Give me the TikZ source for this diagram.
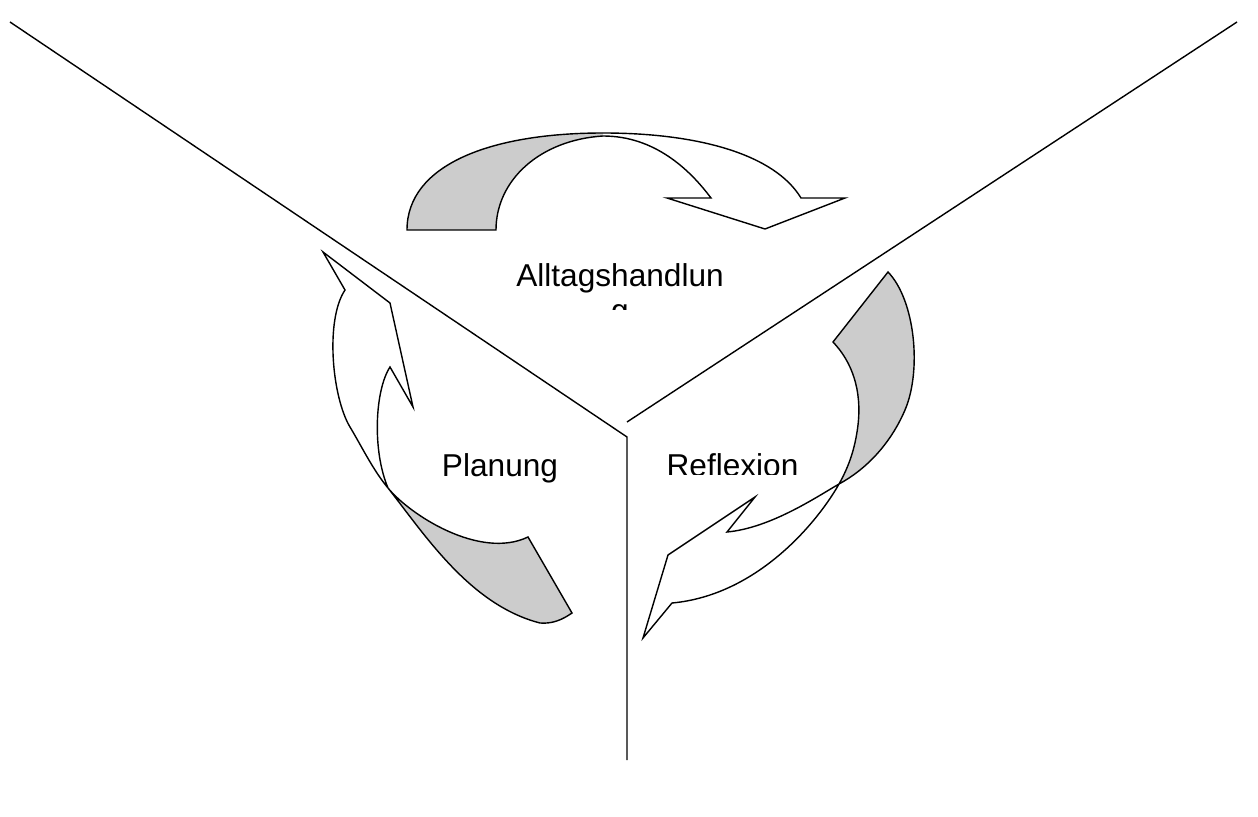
\documentclass[tikz,border=0pt]{standalone}
\usepackage{fontspec}
\setmainfont{Liberation Sans}
\usetikzlibrary{positioning}
\definecolor{ribbongrey}{RGB}{204,204,204}

\begin{document}
\begin{tikzpicture}[
            x=0.02cm, y=-0.02cm,
            divider/.style={
                draw,
                line width=0.8pt
            },
            band/.style={
                draw,
                line width=0.8pt,
                line join=miter
            },
            face/.style={
                fill=ribbongrey
            },
            phase/.style={
                font=\fontsize{18}{20}\selectfont,
                inner sep=0pt,
                anchor=base
            }
        ]
            \useasboundingbox (0,0) rectangle (1258,817);

            % the three sectors
            \coordinate (nw) at (10,22);
            \coordinate (ne) at (1237,22);
            \coordinate (hub) at (627,437);
            \coordinate (gap) at (627,422);
            \coordinate (foot) at (627,760);
            \draw[divider] (nw) -- (hub) -- (foot);
            \draw[divider] (ne) -- (gap);

            % arrow over the top
            \fill[face] (407,230) .. controls (407,165) and (490,133) .. (603,133)
                -- (603,136) .. controls (540,140) and (496,180) .. (496,230) -- cycle;
            \draw[band] (496,230) -- (407,230)
                .. controls (407,165) and (490,133) .. (603,133)
                .. controls (700,133) and (775,155) .. (801,198)
                -- (845,198) -- (765,229) -- (667,198) -- (711,198)
                .. controls (690,170) and (655,136) .. (603,136)
                .. controls (540,140) and (496,180) .. (496,230) -- cycle;

            % arrow on the left
            \fill[face] (388,488) .. controls (425,535) and (470,605) .. (540,623)
                .. controls (552,624) and (562,620) .. (572,613) -- (528,537)
                .. controls (480,560) and (410,515) .. (388,488) -- cycle;
            \draw[band] (390,367) -- (413,407) -- (390,303) -- (323,252) -- (345,290)
                .. controls (325,320) and (332,397) .. (350,427)
                .. controls (362,447) and (373,470) .. (388,488)
                .. controls (425,535) and (470,605) .. (540,623)
                .. controls (552,624) and (562,620) .. (572,613) -- (528,537)
                .. controls (480,560) and (410,515) .. (388,488)
                .. controls (372,450) and (375,390) .. (390,367) -- cycle;

            % arrow on the right
            \fill[face] (888,272) .. controls (915,300) and (922,370) .. (905,410)
                .. controls (890,445) and (865,470) .. (839,484)
                .. controls (848,468) and (855,450) .. (858,425)
                .. controls (862,390) and (852,362) .. (833,342) -- cycle;
            \draw[band] (888,272) .. controls (915,300) and (922,370) .. (905,410)
                .. controls (890,445) and (865,470) .. (839,484)
                .. controls (815,498) and (770,528) .. (727,532)
                -- (755,497) -- (668,555) -- (643,638) -- (672,603)
                .. controls (760,595) and (820,518) .. (839,484)
                .. controls (848,468) and (855,450) .. (858,425)
                .. controls (862,390) and (852,362) .. (833,342) -- cycle;

            % texts
            \node[phase] (alltag) at (620,287) {Alltagshandlun};
            \begin{scope}
                \clip (560,290) rectangle (680,309.5);
                \node[phase] (alltagrest) at (620,322) {g};
            \end{scope}
            \node[phase] (planung) at (500,477) {Planung};
            \begin{scope}
                \clip (650,440) rectangle (820,474.5);
                \node[phase] (reflexion) at (732.5,476.5) {Reflexion};
            \end{scope}
        \end{tikzpicture}
\end{document}
